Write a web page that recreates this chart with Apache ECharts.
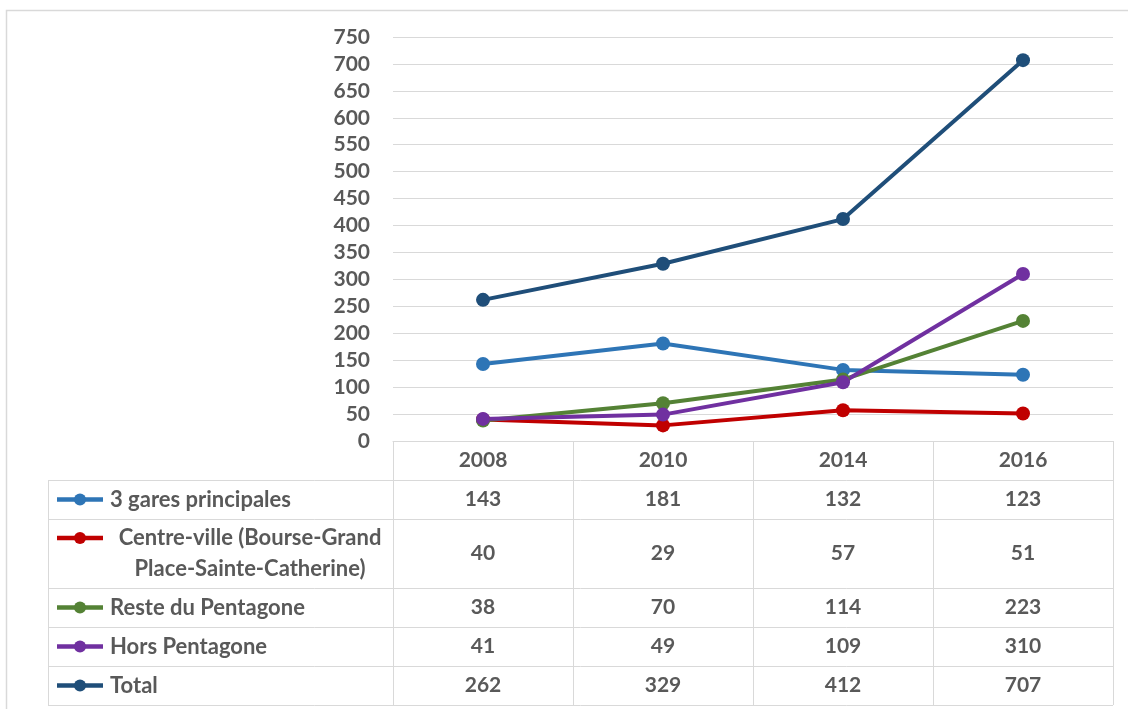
<!DOCTYPE html>
<html>
<head>
<meta charset="utf-8">
<script src="https://cdn.jsdelivr.net/npm/echarts@6/dist/echarts.min.js"></script>
<style>
    html, body { margin: 0; padding: 0; background: #fff; }
    #main { width: 1128px; height: 709px; }
</style>
</head>
<body>
<div id="main"></div>
<script>
// données
let years = ['2008', '2010', '2014', '2016'];
let gares = [143, 181, 132, 123];
let centreVille = [40, 29, 57, 51];
let resteDuPentagone = [38, 70, 114, 223];
let horsPentagone = [41, 49, 109, 310];
let total = [262, 329, 412, 707];

let seriesNames = ['3 gares principales', 'Centre-ville (Bourse-Grand\nPlace-Sainte-Catherine)',
    'Reste du Pentagone', 'Hors Pentagone', 'Total'];
let seriesData = [gares, centreVille, resteDuPentagone, horsPentagone, total];

let colors = ['#2E75B6', '#C00000', '#548235', '#7030A0', '#1F4E79'];
let textColor = '#595959';
let lineColor = '#d9d9d9';
let font = 'Lato, "Open Sans", sans-serif';

// lignes du tableau (haut, bas de chaque ligne)
let headerTop = 441;
let rowHeights = [39, 39, 69, 39, 39, 39];
let tableLeft = 48;
let textLineHeight = 31;

let myChart = echarts.init(document.getElementById('main'));

let seriesArray = [];
seriesData.forEach(function (data, i) {
    seriesArray.push({
        name: seriesNames[i],
        type: 'line',
        data: data,
        symbol: 'circle',
        symbolSize: 14,
        lineStyle: { width: 4, color: colors[i] },
        itemStyle: { color: colors[i] },
        emphasis: { disabled: true }
    });
});

let option = {
    animation: false,
    backgroundColor: '#fff',
    grid: { left: 393, right: 15, top: 37, bottom: 268 },
    xAxis: {
        type: 'category',
        boundaryGap: true,
        data: years,
        axisLine: { show: true, lineStyle: { color: lineColor, width: 1 } },
        axisTick: { show: false },
        axisLabel: { show: false }
    },
    yAxis: {
        type: 'value',
        min: 0,
        max: 750,
        interval: 50,
        axisLine: { show: false },
        axisTick: { show: false },
        axisLabel: { margin: 23, color: textColor, fontSize: 21, fontWeight: 'bold', fontFamily: font },
        splitLine: { lineStyle: { color: lineColor, width: 1 } }
    },
    series: seriesArray
};

myChart.setOption(option);

// tableau de données sous le graphique
function buildTable() {
    let c0 = myChart.convertToPixel({ xAxisIndex: 0 }, 0);
    let c1 = myChart.convertToPixel({ xAxisIndex: 0 }, 1);
    let band = c1 - c0;
    let centers = years.map(function (y, i) { return myChart.convertToPixel({ xAxisIndex: 0 }, i); });
    let colLeft = centers[0] - band / 2;
    let colRight = centers[centers.length - 1] + band / 2;

    let elements = [];
    let lineStyle = { stroke: lineColor, lineWidth: 1 };
    let txt = function (x, y, text, align, size) {
        return {
            type: 'text', x: x, y: y,
            style: {
                text: text, fill: textColor, font: 'bold ' + (size || 21) + 'px ' + font,
                textAlign: align || 'center', textVerticalAlign: 'middle', lineHeight: textLineHeight
            }
        };
    };

    // bordure extérieure
    elements.push({ type: 'rect', shape: { x: 6.5, y: 10.5, width: 1140, height: 720 },
        style: { fill: null, stroke: lineColor, lineWidth: 1.5 } });

    let yTops = [headerTop];
    rowHeights.forEach(function (h) { yTops.push(yTops[yTops.length - 1] + h); });
    let bottom = yTops[yTops.length - 1];

    // lignes horizontales
    yTops.forEach(function (y, i) {
        let x1 = i === 0 ? colLeft : tableLeft;
        elements.push({ type: 'line', shape: { x1: x1, y1: y + 0.5, x2: colRight, y2: y + 0.5 }, style: lineStyle });
    });
    // lignes verticales
    elements.push({ type: 'line', shape: { x1: tableLeft + 0.5, y1: yTops[1], x2: tableLeft + 0.5, y2: bottom }, style: lineStyle });
    for (let i = 0; i <= years.length; i++) {
        let x = Math.round(colLeft + band * i) + 0.5;
        elements.push({ type: 'line', shape: { x1: x, y1: headerTop, x2: x, y2: bottom }, style: lineStyle });
    }

    // en-tête
    years.forEach(function (y, i) {
        elements.push(txt(centers[i], (yTops[0] + yTops[1]) / 2, y));
    });

    // lignes de séries
    seriesNames.forEach(function (name, r) {
        let yc = (yTops[r + 1] + yTops[r + 2]) / 2;
        let nLines = name.split('\n').length;
        let keyY = yc - (nLines - 1) * textLineHeight / 2;
        elements.push({ type: 'line', shape: { x1: 57, y1: keyY, x2: 103, y2: keyY },
            style: { stroke: colors[r], lineWidth: 4.5 } });
        elements.push({ type: 'circle', shape: { cx: 80, cy: keyY, r: 6 }, style: { fill: colors[r] } });
        if (nLines > 1) {
            elements.push(txt(250, yc, name, 'center', 22));
        } else {
            elements.push(txt(110, yc, name, 'left', 22));
        }
        seriesData[r].forEach(function (v, i) {
            elements.push(txt(centers[i], yc, String(v)));
        });
    });

    myChart.setOption({ graphic: { elements: elements } });
}

buildTable();
</script>
</body>
</html>
